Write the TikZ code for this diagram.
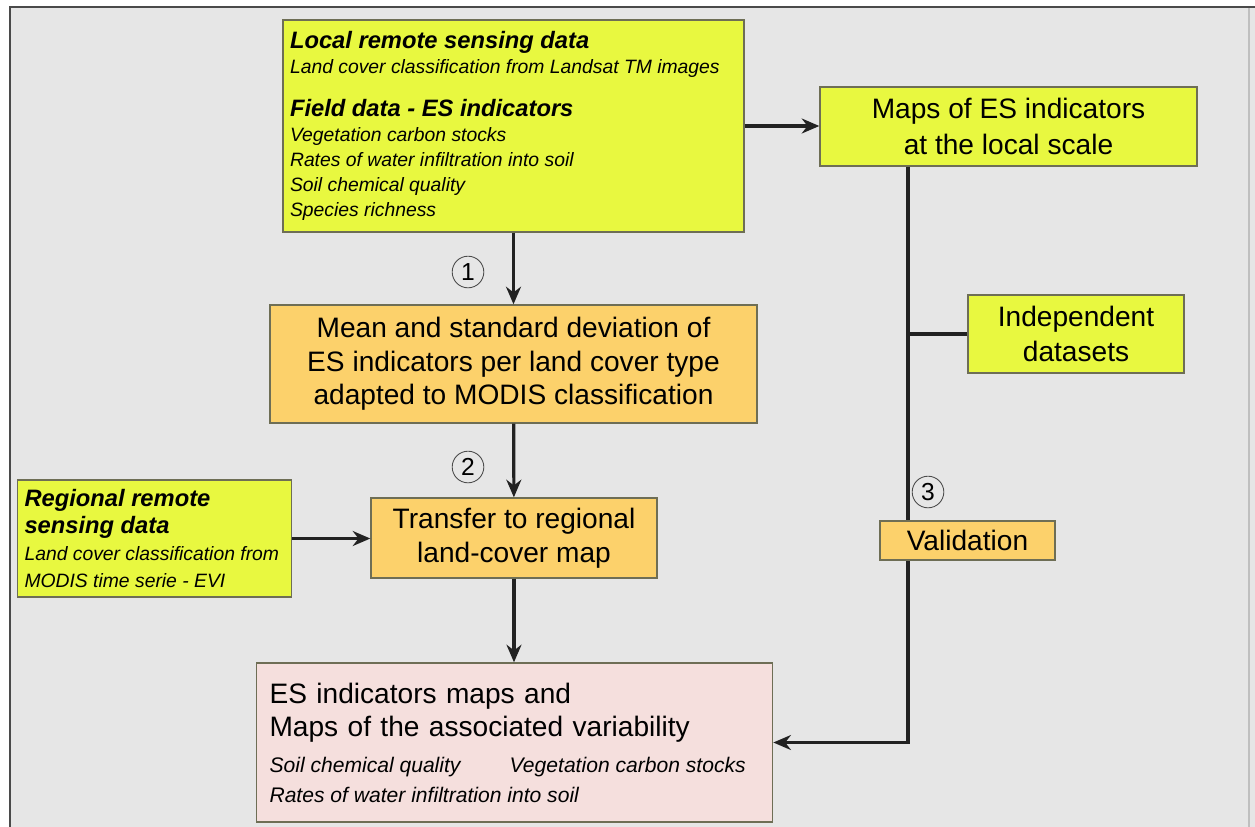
\documentclass[tikz,border=0pt]{standalone}
\usepackage{fontspec}
\setmainfont{Liberation Sans}
\usepackage{xcolor}
\usepackage{tikz}
\usetikzlibrary{arrows.meta}
\definecolor{bggray}{HTML}{E6E6E6}
\definecolor{framegray}{HTML}{4A4A4A}
\definecolor{boxyellow}{HTML}{E8F840}
\definecolor{boxorange}{HTML}{FCD16B}
\definecolor{boxpink}{HTML}{F5DFDD}
\definecolor{boxline}{HTML}{6E6E55}
\definecolor{linkline}{HTML}{222222}
\newcommand{\boxhead}{\fontsize{13.5}{14.2}\selectfont\bfseries\itshape\spaceskip=0pt\xspaceskip=0pt}
\newcommand{\boxitem}{\fontsize{11}{14.2}\selectfont\itshape\spaceskip=0pt\xspaceskip=0pt}
\newcommand{\pinkitem}{\fontsize{12}{17.6}\selectfont\itshape\spaceskip=0pt\xspaceskip=0pt}
\lineskiplimit=-20pt

\begin{document}
\begin{tikzpicture}[x=0.02cm, y=-0.02cm, >={Stealth[length=10pt,width=8.5pt]},
  plainbox/.style={draw=boxline, line width=0.8pt, anchor=center},
  yellowbox/.style={plainbox, fill=boxyellow},
  orangebox/.style={plainbox, fill=boxorange},
  pinkbox/.style={plainbox, fill=boxpink},
  bigtext/.style={align=center, font=\fontsize{16}{19.5}\selectfont},
  listtext/.style={align=left, font=\fontsize{11}{14.2}\selectfont},
  stepnum/.style={circle, draw=black!70, line width=0.5pt, minimum size=18pt, inner sep=0pt, font=\fontsize{14}{14}\selectfont},
  link/.style={draw=linkline, line width=1.8pt}]
\useasboundingbox (0,0) rectangle (1255,826);
% frame
\fill[bggray] (10,7) rectangle (1255,830);
\draw[black!25, line width=1pt] (1249,7) -- (1249,830);
\draw[framegray, line width=1.6pt] (10,830) -- (10,7) -- (1255,7);
% input data
\node[yellowbox, listtext, text width=8.94cm, inner xsep=4pt, minimum height=4.24cm] (local) at (513.5,126)
  {{\boxhead Local remote sensing data}\\
   {\boxitem Land cover classification from Landsat TM images}\\[10pt]
   {\boxhead Field data - ES indicators}\\
   {\boxitem Vegetation carbon stocks}\\
   {\boxitem Rates of water infiltration into soil}\\
   {\boxitem Soil chemical quality}\\
   {\boxitem Species richness}};
\node[yellowbox, align=left, font=\fontsize{11}{15.5}\selectfont, text width=5.2cm, inner xsep=4pt, minimum height=2.34cm] (regional) at (154.5,538.5)
  {{\boxhead Regional remote}\\
   {\boxhead sensing data}\\
   {\boxitem Land cover classification from}\\
   {\boxitem MODIS time serie - EVI}};
\node[yellowbox, bigtext, minimum width=4.32cm, minimum height=1.56cm] (indep) at (1076,334) {Independent\\datasets};
% processing steps
\node[yellowbox, bigtext, minimum width=7.54cm, minimum height=1.58cm, font=\fontsize{16}{20}\selectfont] (maps) at (1008.5,126.5) {Maps of ES indicators\\at the local scale};
\node[orangebox, bigtext, minimum width=9.74cm, minimum height=2.36cm, font=\fontsize{16}{19}\selectfont] (mean) at (513.5,364) {Mean and standard deviation of\\ES indicators per land cover type\\adapted to MODIS classification};
\node[orangebox, bigtext, minimum width=5.72cm, minimum height=1.6cm] (transfer) at (514,538) {Transfer to regional\\land-cover map};
% result
\node[pinkbox, align=left, font=\fontsize{16}{19.3}\selectfont, text width=9.8cm, inner xsep=7.5pt, minimum height=3.18cm] (esmaps) at (514.5,742.5)
  {ES indicators maps and\\
   Maps of the associated variability\\[1pt]
   \mbox{\pinkitem Soil chemical quality\hspace{28pt}Vegetation carbon stocks}\\[-2.5pt]
   \mbox{\pinkitem Rates of water infiltration into soil}};
% step numbers
\node[stepnum] (num1) at (468,272) {1};
\node[stepnum] (num2) at (468,467) {2};
\node[stepnum] (num3) at (928,492) {3};
% arrows
\coordinate (trunk) at (908,742);
\draw[link, ->] (local.east) -- (local.east -| maps.west);
\draw[link, ->] (local) -- (mean);
\draw[link, ->] (mean) -- (transfer);
\draw[link, ->] (regional.east) -- (regional.east -| transfer.west);
\draw[link, ->] (transfer) -- (transfer |- esmaps.north);
\draw[link, ->] (maps.south -| trunk) |- (esmaps.east);
\draw[link] (indep.west) -- (indep.west -| trunk);
% validation on top of the line
\node[orangebox, bigtext, minimum width=3.5cm, minimum height=0.78cm] (valid) at (967.5,540.5) {Validation};
\end{tikzpicture}
\end{document}
